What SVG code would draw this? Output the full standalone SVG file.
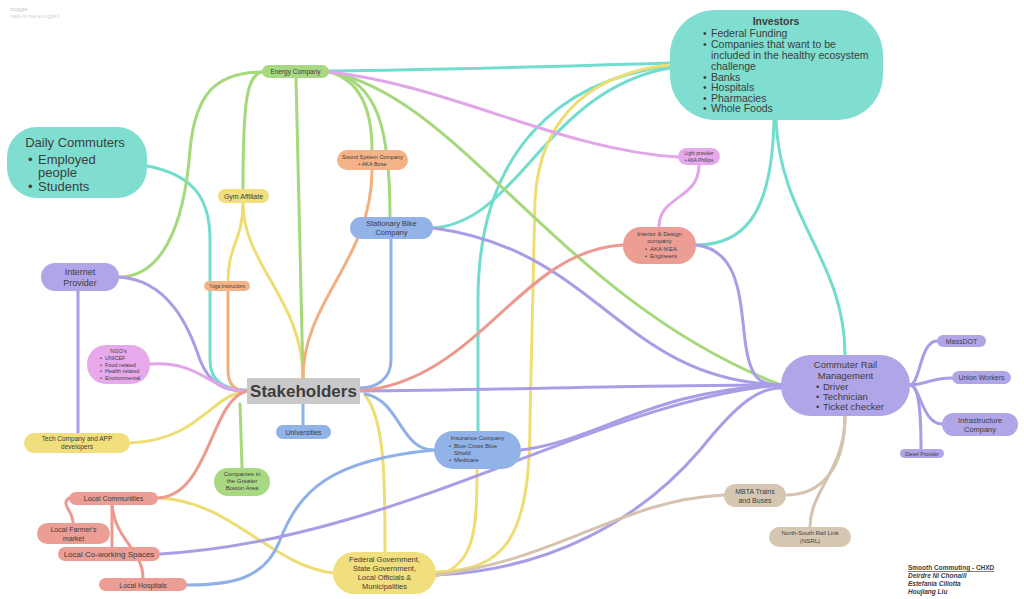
<svg xmlns="http://www.w3.org/2000/svg" width="1024" height="599" viewBox="0 0 1024 599">
<style>
text{font-family:"Liberation Sans",Arial,sans-serif;fill:#3d3d3d}
.c{fill:none;stroke-width:3;stroke-linecap:round}
.teal{stroke:#72dccd}.yel{stroke:#eedd72}.grn{stroke:#a6d97c}.org{stroke:#f2b07f}.blu{stroke:#8fb1e8}.pur{stroke:#a99ee6}.pnk{stroke:#e2a5ea}.sal{stroke:#ec9a90}.tan{stroke:#d4c3ae}
.fteal{fill:#7fdecf}.fyel{fill:#f0df7c}.fgrn{fill:#a8d982}.forg{fill:#f4b287}.fblu{fill:#92b3e8}.fpur{fill:#b0a5e6}.fpnk{fill:#e6aaec}.fsal{fill:#ec9d94}.ftan{fill:#d6c7b3}
.m{text-anchor:middle}
</style>
<rect width="1024" height="599" fill="#ffffff"/>
<text x="10" y="11" font-size="6" style="fill:#c8c8c8">coggle</text>
<text x="10" y="18" font-size="4.5" style="fill:#d0d0d0">made for free at coggle.it</text>

<g id="connectors">
<!-- teal -->
<path class="c teal" d="M147,166 C195,175 210,200 210,240 L210,360 C210,382 225,390 247,390"/>
<path class="c teal" d="M329,71 C450,70 560,66 670,63"/>
<path class="c teal" d="M670,66 C560,80 478,150 478,300 L478,431"/>
<path class="c teal" d="M670,68 C545,90 520,222 433,228"/>
<path class="c teal" d="M776,120 C780,220 845,260 845,355"/>
<path class="c teal" d="M696,245 C740,245 772,220 774,120"/>
<!-- yellow -->
<path class="c yel" d="M243,203 C243,240 228,245 228,281"/>
<path class="c yel" d="M243,203 C243,265 303,300 303,378"/>
<path class="c yel" d="M130,443 C200,440 210,395 247,391"/>
<path class="c yel" d="M365,395 C385,420 385,480 385,552"/>
<path class="c yel" d="M158,498 C230,500 270,565 333,573"/>
<path class="c yel" d="M436,572 C505,570 530,540 530,420 L535,200 C540,110 600,72 670,65"/>
<path class="c yel" d="M477,469 C477,530 475,565 436,576"/>
<!-- green -->
<path class="c grn" d="M262,72 C215,72 195,95 190,150 C184,230 160,277 119,277"/>
<path class="c grn" d="M262,72 C247,75 243,100 243,189"/>
<path class="c grn" d="M296,78 L303,378"/>
<path class="c grn" d="M329,72 C360,80 372,110 372,150"/>
<path class="c grn" d="M329,72 C378,80 390,130 390,217"/>
<path class="c grn" d="M329,72 C460,95 560,300 781,385"/>
<path class="c grn" d="M242,468 L240,404"/>
<!-- orange -->
<path class="c org" d="M372,170 C372,260 303,300 303,378"/>
<path class="c org" d="M228,291 L228,370 C228,385 235,391 247,391"/>
<!-- blue -->
<path class="c blu" d="M391,239 L391,360 C391,380 375,388 360,388"/>
<path class="c blu" d="M303,404 L303,425"/>
<path class="c blu" d="M365,394 C400,400 400,450 434,450"/>
<path class="c blu" d="M434,450 C330,460 300,490 280,540 C265,580 230,585 187,585"/>
<!-- purple -->
<path class="c pur" d="M119,277 C170,280 190,330 200,360 C210,385 225,391 247,391"/>
<path class="c pur" d="M78,291 L78,433"/>
<path class="c pur" d="M360,391 C500,390 650,385 781,385"/>
<path class="c pur" d="M433,228 C600,250 620,380 781,385"/>
<path class="c pur" d="M696,245 C740,250 740,300 745,340 C750,380 760,385 781,385"/>
<path class="c pur" d="M521,450 C600,440 650,390 781,385"/>
<path class="c pur" d="M160,554 C400,540 600,400 781,385"/>
<path class="c pur" d="M436,575 C550,570 640,520 700,450 C740,400 760,388 781,388"/>
<path class="c pur" d="M910,385 C920,385 920,341 937,341"/>
<path class="c pur" d="M910,385 C925,385 930,378 952,378"/>
<path class="c pur" d="M910,385 C920,385 922,424 942,424"/>
<path class="c pur" d="M910,385 C920,385 921,420 921,449"/>
<!-- pink -->
<path class="c pnk" d="M150,364 C200,360 210,391 247,391"/>
<path class="c pnk" d="M699,165 C699,200 659,195 659,227"/>
<path class="c pnk" d="M329,72 C450,85 560,150 678,157"/>
<!-- salmon -->
<path class="c sal" d="M247,391 C210,400 210,495 158,498"/>
<path class="c sal" d="M360,391 C480,380 520,250 623,245"/>
<path class="c sal" d="M69,498 C60,505 73,510 73,523"/>
<path class="c sal" d="M112,505 L112,547"/>
<path class="c sal" d="M112,505 C115,540 143,550 143,578"/>
<!-- tan -->
<path class="c tan" d="M845,416 C845,470 820,495 786,495"/>
<path class="c tan" d="M845,416 C845,470 810,490 810,527"/>
<path class="c tan" d="M724,495 C620,500 560,560 436,575"/>
</g>

<g id="stakeholders">
<rect x="247" y="378" width="113" height="26" fill="#c9c9c9"/>
<text x="303.5" y="397" class="m" font-size="17" font-weight="bold">Stakeholders</text>
</g>

<g id="investors">
<rect x="670" y="10" width="213" height="110" rx="45" class="fteal"/>
<text x="776" y="25" class="m" font-size="10.5" font-weight="bold">Investors</text>
<g font-size="10.5">
<text x="703" y="37">•</text><text x="711" y="37">Federal Funding</text>
<text x="703" y="48">•</text><text x="711" y="48">Companies that want to be</text>
<text x="711" y="59">included in the healthy ecosystem</text>
<text x="711" y="70">challenge</text>
<text x="703" y="81">•</text><text x="711" y="81">Banks</text>
<text x="703" y="91">•</text><text x="711" y="91">Hospitals</text>
<text x="703" y="102">•</text><text x="711" y="102">Pharmacies</text>
<text x="703" y="112">•</text><text x="711" y="112">Whole Foods</text>
</g>
</g>

<g id="daily-commuters">
<rect x="7" y="127" width="140" height="71" rx="30" class="fteal"/>
<text x="75" y="147" class="m" font-size="13">Daily Commuters</text>
<text x="28" y="164" font-size="13">•</text><text x="38" y="164" font-size="13">Employed</text>
<text x="38" y="177" font-size="13">people</text>
<text x="28" y="191" font-size="13">•</text><text x="38" y="191" font-size="13">Students</text>
</g>

<g id="energy-company">
<rect x="262" y="65" width="67" height="13" rx="6.5" class="fgrn"/>
<text x="295.5" y="74" class="m" font-size="6.5">Energy Company</text>
</g>

<g id="sound-system">
<rect x="337" y="150" width="71" height="20" rx="10" class="forg"/>
<text x="372.5" y="159" class="m" font-size="5.5">Sound System Company</text>
<text x="372.5" y="166" class="m" font-size="5.5">• AKA Bose</text>
</g>

<g id="gym-affiliate">
<rect x="218" y="189" width="51" height="14" rx="7" class="fyel"/>
<text x="243.5" y="199" class="m" font-size="7">Gym Affiliate</text>
</g>

<g id="yoga">
<rect x="204" y="281" width="46" height="10" rx="5" class="forg"/>
<text x="227" y="288" class="m" font-size="5">Yoga Instructors</text>
</g>

<g id="stationary-bike">
<rect x="350" y="217" width="83" height="22" rx="11" class="fblu"/>
<text x="391.5" y="226" class="m" font-size="7.5">Stationary Bike</text>
<text x="391.5" y="235" class="m" font-size="7.5">Company</text>
</g>

<g id="internet-provider">
<rect x="41" y="263" width="78" height="28" rx="14" class="fpur"/>
<text x="80" y="275" class="m" font-size="9">Internet</text>
<text x="80" y="286" class="m" font-size="9">Provider</text>
</g>

<g id="ngo">
<rect x="87" y="345" width="63" height="39" rx="19" class="fpnk"/>
<text x="118.5" y="353" class="m" font-size="5.5">NGO's</text>
<g font-size="5.5">
<text x="100" y="360">•</text><text x="105" y="360">UNICEF</text>
<text x="100" y="367">•</text><text x="105" y="367">Food related</text>
<text x="100" y="373">•</text><text x="105" y="373">Health related</text>
<text x="100" y="380">•</text><text x="105" y="380">Environmental</text>
</g>
</g>

<g id="light-provider">
<rect x="678" y="148" width="42" height="17" rx="8.5" class="fpnk"/>
<text x="699" y="155" class="m" font-size="4.8">Light provider</text>
<text x="699" y="162" class="m" font-size="4.8">• AKA Phillips</text>
</g>

<g id="interior-design">
<rect x="623" y="227" width="73" height="37" rx="18" class="fsal"/>
<text x="659.5" y="236" class="m" font-size="6">Interior &amp; Design</text>
<text x="659.5" y="243" class="m" font-size="6">company</text>
<text x="645" y="251" font-size="6">•</text><text x="650" y="251" font-size="6">AKA IKEA</text>
<text x="645" y="258" font-size="6">•</text><text x="650" y="258" font-size="6">Engineers</text>
</g>

<g id="commuter-rail">
<rect x="781" y="355" width="129" height="61" rx="30" class="fpur"/>
<text x="845.5" y="368" class="m" font-size="9.5">Commuter Rail</text>
<text x="845.5" y="379" class="m" font-size="9.5">Management</text>
<g font-size="9.5">
<text x="816" y="390">•</text><text x="823" y="390">Driver</text>
<text x="816" y="400">•</text><text x="823" y="400">Technician</text>
<text x="816" y="410">•</text><text x="823" y="410">Ticket checker</text>
</g>
</g>

<g id="massdot">
<rect x="937" y="335" width="49" height="12" rx="6" class="fpur"/>
<text x="961.5" y="344" class="m" font-size="7">MassDOT</text>
</g>

<g id="union-workers">
<rect x="952" y="371" width="59" height="13" rx="6.5" class="fpur"/>
<text x="981.5" y="380" class="m" font-size="7">Union Workers</text>
</g>

<g id="infrastructure">
<rect x="942" y="413" width="76" height="23" rx="11.5" class="fpur"/>
<text x="980" y="423" class="m" font-size="7.5">Infrastructure</text>
<text x="980" y="432" class="m" font-size="7.5">Company</text>
</g>

<g id="diesel">
<rect x="900" y="449" width="44" height="9" rx="4.5" class="fpur"/>
<text x="922" y="455.5" class="m" font-size="5">Diesel Provider</text>
</g>

<g id="universities">
<rect x="276" y="425" width="55" height="14" rx="7" class="fblu"/>
<text x="303.5" y="435" class="m" font-size="7">Universities</text>
</g>

<g id="insurance">
<rect x="434" y="431" width="87" height="38" rx="19" class="fblu"/>
<text x="477.5" y="440" class="m" font-size="6">Insurance Company</text>
<text x="449" y="448" font-size="6">•</text><text x="454" y="448" font-size="6">Blue Cross Blue</text>
<text x="454" y="455" font-size="6">Shield</text>
<text x="449" y="462" font-size="6">•</text><text x="454" y="462" font-size="6">Medicare</text>
</g>

<g id="tech-company">
<rect x="24" y="433" width="106" height="20" rx="10" class="fyel"/>
<text x="77" y="441" class="m" font-size="6.5">Tech Company and APP</text>
<text x="77" y="449" class="m" font-size="6.5">developers</text>
</g>

<g id="greater-boston">
<rect x="214" y="468" width="56" height="28" rx="14" class="fgrn"/>
<text x="242" y="476" class="m" font-size="6">Companies in</text>
<text x="242" y="483" class="m" font-size="6">the Greater</text>
<text x="242" y="490" class="m" font-size="6">Boston Area</text>
</g>

<g id="local-communities">
<rect x="69" y="492" width="89" height="13" rx="6.5" class="fsal"/>
<text x="113.5" y="501" class="m" font-size="7">Local Communities</text>
</g>

<g id="farmers-market">
<rect x="37" y="523" width="73" height="21" rx="10.5" class="fsal"/>
<text x="73.5" y="532" class="m" font-size="7">Local Farmer's</text>
<text x="73.5" y="541" class="m" font-size="7">market</text>
</g>

<g id="coworking">
<rect x="58" y="547" width="102" height="14" rx="7" class="fsal"/>
<text x="109" y="557" class="m" font-size="8">Local Co-working Spaces</text>
</g>

<g id="local-hospitals">
<rect x="99" y="578" width="88" height="13" rx="6.5" class="fsal"/>
<text x="143" y="587.5" class="m" font-size="7">Local Hospitals</text>
</g>

<g id="federal-government">
<rect x="333" y="552" width="103" height="42" rx="21" class="fyel"/>
<text x="384.5" y="562" class="m" font-size="7.5">Federal Government,</text>
<text x="384.5" y="571" class="m" font-size="7.5">State Government,</text>
<text x="384.5" y="580" class="m" font-size="7.5">Local Officials &amp;</text>
<text x="384.5" y="589" class="m" font-size="7.5">Municipalities</text>
</g>

<g id="mbta">
<rect x="724" y="484" width="62" height="23" rx="11.5" class="ftan"/>
<text x="755" y="494" class="m" font-size="7">MBTA Trains</text>
<text x="755" y="503" class="m" font-size="7">and Buses</text>
</g>

<g id="nsrl">
<rect x="769" y="527" width="82" height="20" rx="10" class="ftan"/>
<text x="810" y="535" class="m" font-size="6">North-South Rail Link</text>
<text x="810" y="543" class="m" font-size="6">(NSRL)</text>
</g>

<g id="credits" font-family="'Open Sans',sans-serif" font-size="6.5" font-weight="bold">
<text x="908" y="570" text-decoration="underline">Smooth Commuting - CHXD</text>
<text x="908" y="578" font-style="italic">Deirdre Ni Chonaill</text>
<text x="908" y="586" font-style="italic">Estefania Ciliotta</text>
<text x="908" y="594" font-style="italic">Houjiang Liu</text>
</g>
</svg>
